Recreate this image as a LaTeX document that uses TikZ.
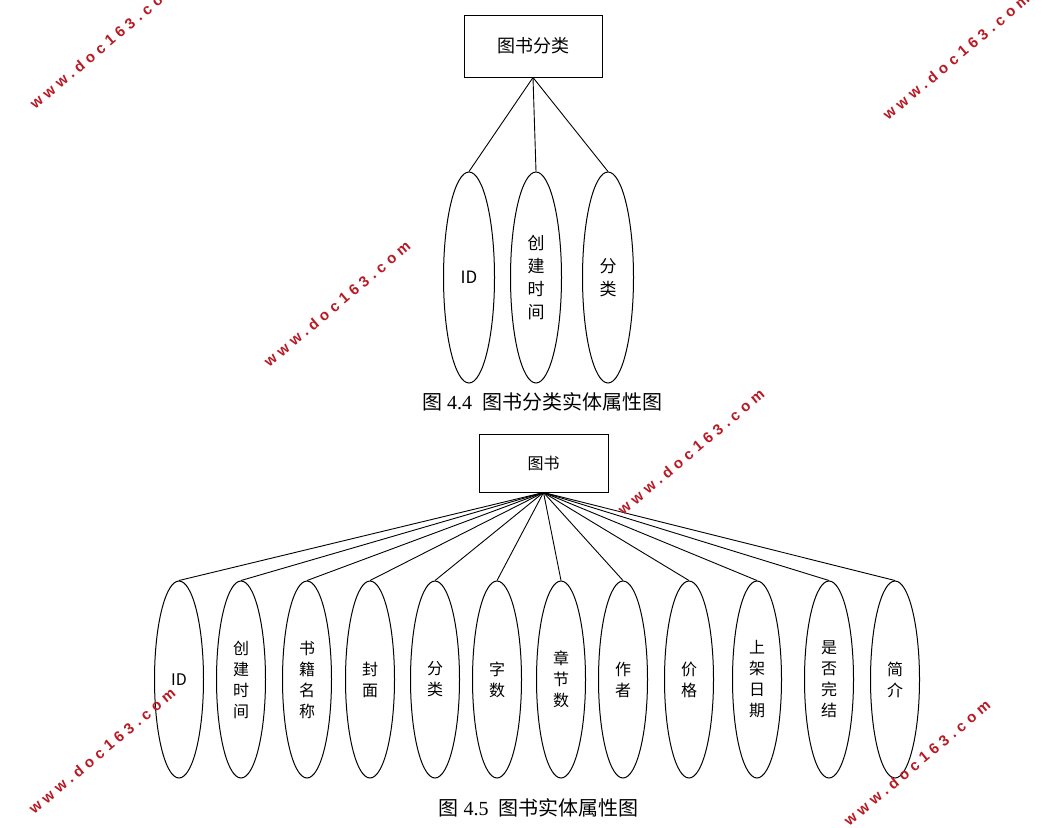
\documentclass[tikz,border=0pt]{standalone}
\usepackage{fontspec}
\setmainfont{Liberation Serif}
\newfontfamily\cjk{Noto Sans CJK SC}
\newfontfamily\wmfont[LetterSpace=31]{Liberation Sans}
\usetikzlibrary{shapes.geometric}
\definecolor{MarkRed}{RGB}{185,25,35}
\tikzset{
  ent/.style={draw,line width=1pt,inner sep=0pt,font=\cjk\fontsize{18}{22}\selectfont},
  attr/.style={draw,ellipse,line width=1pt,inner sep=0pt,align=center,minimum width=51pt},
  link/.style={line width=0.9pt},
  capt/.style={font=\fontsize{20}{24}\selectfont},
  wm/.style={rotate=40,text=MarkRed,font=\wmfont\bfseries\fontsize{15}{15}\selectfont},
}

\begin{document}
\begin{tikzpicture}[x=1pt,y=-1pt]
      \fill[white] (0,0) rectangle (1051,827);
      \useasboundingbox (0,0) rectangle (1051,827);
      % 图 4.4
      \node[ent,minimum width=138pt,minimum height=62pt] (cat) at (533,46) {图书分类};
      \foreach \n/\x/\t in {cid/469/ID, cctime/536/{创\\建\\时\\间}, ccat/608/{分\\类}} {
        \node[attr,minimum height=211pt,font=\cjk\fontsize{17}{23}\selectfont] (\n) at (\x,277.5) {\t};
        \draw[link] (cat.south) -- (\n.north);
      }
      \node[capt] (cap4) at (542,402) {{\cjk 图} 4.4\enspace{\cjk 图书分类实体属性图}};
      % 图 4.5
      \node[ent,minimum width=129pt,minimum height=58pt,font=\cjk\fontsize{16}{20}\selectfont] (book) at (543.5,463) {图书};
      \foreach \n/\x/\t in {bid/179/ID, bctime/241/{创\\建\\时\\间}, bname/307/{书\\籍\\名\\称},
          bcover/370/{封\\面}, bcat/435/{分\\类}, bwords/497/{字\\数}, bchap/561/{章\\节\\数},
          bauthor/623/{作\\者}, bprice/689/{价\\格}, bdate/757/{上\\架\\日\\期},
          bdone/829/{是\\否\\完\\结}, bintro/895/{简\\介}} {
        \node[attr,minimum height=197pt,minimum width=49pt,font=\cjk\fontsize{16}{21}\selectfont] (\n) at (\x,679.5) {\t};
        \draw[link] (book.south) -- (\n.north);
      }
      \node[capt] (cap5) at (538.5,808) {{\cjk 图} 4.5\enspace{\cjk 图书实体属性图}};
      % watermarks
      \foreach \n/\x/\y in {wa/103/46, wb/956/57, wc/337/304, wd/691/452, we/102/751, wf/917/763}
        \node[wm] (\n) at (\x,\y) {www.doc163.com};
\end{tikzpicture}
\end{document}
